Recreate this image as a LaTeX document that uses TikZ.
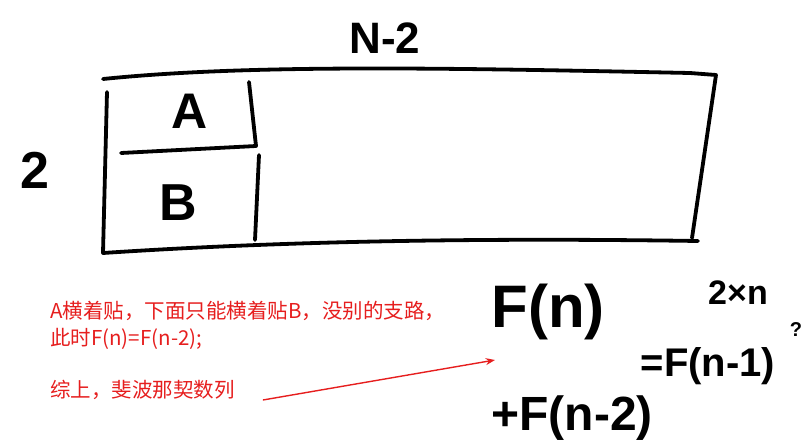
\documentclass[tikz,border=0pt]{standalone}
\usepackage{fontspec}
\setmainfont{Liberation Sans}
\newfontfamily\cjk{Noto Sans CJK SC}
\usetikzlibrary{arrows.meta}
\definecolor{notered}{RGB}{230,30,30}

\begin{document}
\begin{tikzpicture}[x=1pt, y=-1pt, >=Stealth,
  pen/.style={line width=3.8pt, line cap=round, line join=round},
  hand/.style={font=\bfseries\fontsize{#1}{#1}\selectfont, inner sep=0pt},
  hand/.default=50,
  note/.style={text=notered, font=\cjk\fontsize{20.5}{27}\selectfont, align=left, anchor=west, inner sep=0pt}]
\useasboundingbox (0,0) rectangle (806,447);

% the 2 x n board, drawn by hand
\draw[pen] (103,79) .. controls (250,64) and (450,68) .. (690,73) -- (716,75) -- (692,238);
\draw[pen] (107,92) -- (103,253) .. controls (300,240) and (500,238) .. (698,241);

% tile A lying flat, tile B under it
\draw[pen] (249,82) -- (256,146) -- (121,153);
\draw[pen] (259,155) -- (255,240);

% sizes and tile names
\node[hand=44] (len) at (385,38) {N-2};
\node[hand=50] (ta) at (190,111) {A};
\node[hand=52] (tb) at (178,203) {B};
\node[hand=52] (wid) at (35,170) {2};

% notes in red
\node[note] (case) at (50,325) {A横着贴，下面只能横着贴B，没别的支路，\\此时F(n)=F(n-2);};
\node[note] (sum) at (50,390) {综上，斐波那契数列};
\coordinate (tip) at (495,360);
\draw[->, notered, line width=1.4pt] ([xshift=28pt,yshift=-10pt]sum.east) -- (tip);

% the recurrence, handwritten
\node[hand=60] (fn) at (548,312) {F(n)};
\node[hand=34] (dim) at (738,293) {2×n};
\node[hand=20] (qm) at (796,330) {?};
\node[hand=40] (eq) at (708,366) {=F(n-1)};
\node[hand=48] (rest) at (572,418) {+F(n-2)};

\end{tikzpicture}
\end{document}
